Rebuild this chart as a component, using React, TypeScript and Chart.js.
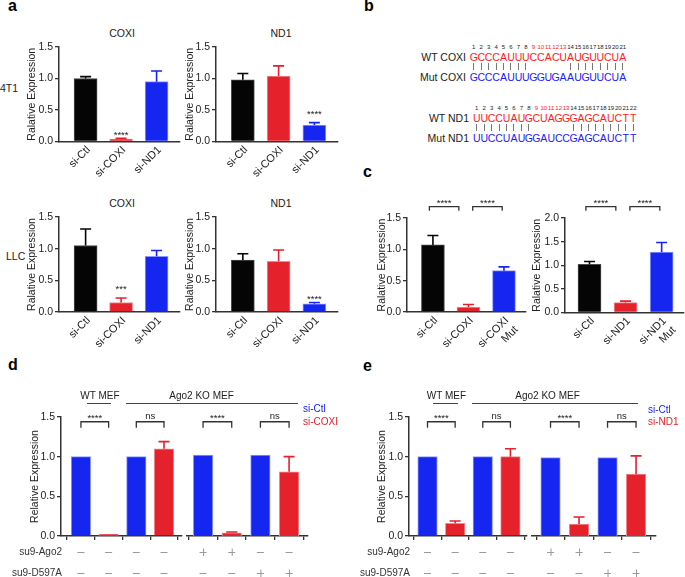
import React, { useEffect, useRef } from "react";
import { Chart, registerables } from "chart.js";

Chart.register(...registerables);

const FONT = "'Liberation Sans', Arial, Helvetica, sans-serif";
Chart.defaults.font.family = FONT;

const BLACK = "#050505";
const RED = "#e5212b";
const BLUE = "#1526f0";
const EDGE: Record<string, string> = { [BLACK]: "#4a4a4a", [RED]: "#f4888c", [BLUE]: "#8c98ff" };
const AXIS = "#333333";
const TXT = "#222222";

// ---------- panel a ----------
const aCategories = ["si-Ctl", "si-COXI", "si-ND1"];
const aColors = [BLACK, RED, BLUE];
const a4T1CoxiValues = [1.0, 0.04, 0.95];
const a4T1CoxiErrors = [0.03, 0.01, 0.17];
const a4T1Nd1Values = [0.98, 1.04, 0.26];
const a4T1Nd1Errors = [0.1, 0.16, 0.04];
const aLLCCoxiValues = [1.05, 0.15, 0.88];
const aLLCCoxiErrors = [0.26, 0.07, 0.09];
const aLLCNd1Values = [0.82, 0.8, 0.13];
const aLLCNd1Errors = [0.1, 0.18, 0.02];

// ---------- panel b ----------
const coxiWT = "GCCCAUUUCCACUAUGUUCUA";
const coxiMut = "GCCCAUUUGGUGAAUGUUCUA";
const nd1WT = "UUCCUAUGCUAGGGAGCAUCTT";
const nd1Mut = "UUCCUAUGGAUCCGAGCAUCTT";
const seedPositions = [9, 10, 11, 12, 13];

// ---------- panel c ----------
const cCoxiCategories: (string | string[])[] = ["si-Ctl", "si-COXI", ["si-COXI", "Mut"]];
const cCoxiValues = [1.07, 0.08, 0.66];
const cCoxiErrors = [0.15, 0.04, 0.06];
const cNd1Categories: (string | string[])[] = ["si-Ctl", "si-ND1", ["si-ND1", "Mut"]];
const cNd1Values = [1.02, 0.21, 1.28];
const cNd1Errors = [0.06, 0.03, 0.2];

// ---------- panels d / e ----------
const deColors = [BLUE, RED, BLUE, RED];
const dWtKoValues = [1.0, 0.02, 1.0, 1.1];
const dWtKoErrors = [0, 0, 0, 0.09];
const dRescueValues = [1.02, 0.04, 1.02, 0.81];
const dRescueErrors = [0, 0.01, 0, 0.19];
const eWtKoValues = [1.0, 0.16, 1.0, 1.0];
const eWtKoErrors = [0, 0.03, 0, 0.1];
const eRescueValues = [0.99, 0.15, 0.99, 0.78];
const eRescueErrors = [0, 0.09, 0, 0.23];
const su9Ago2 = ["-", "-", "-", "-", "+", "+", "-", "-"];
const su9D597A = ["-", "-", "-", "-", "-", "-", "+", "+"];

type Bracket = { from: number; to: number; level: number; text: string; leg: number };
type Star = { index: number; level: number; text: string };
type Row = { label: string; marks: string[]; dy: number };

interface Spec {
  box: number[];
  area: number[];
  labels?: (string | string[])[];
  values: number[];
  errors: number[];
  colors: string[];
  xMin: number;
  xMax: number;
  yMax: number;
  showY: boolean;
  yTitle?: string;
  yTitleX?: number;
  xTickMarks: boolean;
  barWidth: number;
  brackets?: Bracket[];
  stars?: Star[];
  rows?: Row[];
  rowLabels?: boolean;
}

const TICK_FS = 10.5;
const XTICK_FS = 11;
const TITLE_FS = 10.5;

function makeConfig(s: Spec): any {
  const [bx, by, bw, bh] = s.box;
  const [l, t, r, b] = s.area;
  const data = s.values.map((v, i) => ({ x: i, y: v }));
  const extras = {
    id: "extras",
    afterDatasetsDraw(chart: any) {
      const ctx = chart.ctx as CanvasRenderingContext2D;
      const meta = chart.getDatasetMeta(0);
      const ys = chart.scales.y;
      const xs = chart.scales.x;
      ctx.save();
      // error bars (upper only)
      s.errors.forEach((e, i) => {
        if (!e) return;
        const x = meta.data[i].x;
        const y0 = ys.getPixelForValue(s.values[i]);
        const y1 = ys.getPixelForValue(s.values[i] + e);
        ctx.strokeStyle = s.colors[i];
        ctx.lineWidth = 1.6;
        ctx.beginPath();
        ctx.moveTo(x, y0);
        ctx.lineTo(x, y1);
        ctx.moveTo(x - 5.5, y1);
        ctx.lineTo(x + 5.5, y1);
        ctx.stroke();
      });
      // stars above bars
      (s.stars || []).forEach((st) => {
        const x = xs.getPixelForValue(st.index);
        const yc = ys.getPixelForValue(st.level);
        ctx.fillStyle = TXT;
        ctx.font = `9.5px ${FONT}`;
        ctx.textAlign = "center";
        ctx.textBaseline = "alphabetic";
        ctx.fillText(st.text, x, yc + 0.575 * 9.5);
      });
      // brackets
      (s.brackets || []).forEach((br) => {
        const x1 = xs.getPixelForValue(br.from);
        const x2 = xs.getPixelForValue(br.to);
        const y = ys.getPixelForValue(br.level);
        ctx.strokeStyle = AXIS;
        ctx.lineWidth = 1.3;
        ctx.beginPath();
        ctx.moveTo(x1, y + br.leg);
        ctx.lineTo(x1, y);
        ctx.lineTo(x2, y);
        ctx.lineTo(x2, y + br.leg);
        ctx.stroke();
        ctx.fillStyle = TXT;
        ctx.font = `9.5px ${FONT}`;
        ctx.textAlign = "center";
        ctx.textBaseline = "alphabetic";
        ctx.fillText(br.text, (x1 + x2) / 2, y - (br.text === "ns" ? 3 : 0.5));
      });
      // +/- table
      (s.rows || []).forEach((row) => {
        const yc = chart.chartArea.bottom + row.dy;
        if (s.rowLabels) {
          ctx.fillStyle = "#333";
          ctx.font = `10px ${FONT}`;
          ctx.textAlign = "right";
          ctx.textBaseline = "middle";
          ctx.fillText(row.label, chart.chartArea.left + 1, yc);
        }
        ctx.strokeStyle = "#9a9a9a";
        ctx.lineWidth = 1;
        row.marks.forEach((m, i) => {
          const x = xs.getPixelForValue(i);
          ctx.beginPath();
          ctx.moveTo(x - 3.5, yc + 0.5);
          ctx.lineTo(x + 3.5, yc + 0.5);
          if (m === "+") {
            ctx.moveTo(x + 0.5, yc - 3.5);
            ctx.lineTo(x + 0.5, yc + 4);
          }
          ctx.stroke();
        });
      });
      ctx.restore();
    },
  };

  const lh = TITLE_FS * 1.2;
  return {
    type: "bar",
    data: {
      datasets: [
        {
          data,
          backgroundColor: s.colors,
          borderColor: s.colors.map((c) => EDGE[c]),
          borderWidth: 1,
          borderSkipped: "bottom",
          barThickness: s.barWidth,
        },
      ],
    },
    options: {
      responsive: false,
      maintainAspectRatio: false,
      animation: false,
      events: [],
      layout: { padding: { top: t - by, right: bx + bw - r, left: 0, bottom: 0 } },
      plugins: { legend: { display: false }, tooltip: { enabled: false }, title: { display: false } },
      scales: {
        x: {
          type: "linear",
          min: s.xMin,
          max: s.xMax,
          offset: false,
          grid: {
            display: true,
            drawOnChartArea: false,
            drawTicks: s.xTickMarks,
            tickLength: 4,
            color: AXIS,
            lineWidth: 1.3,
          },
          border: { display: true, color: AXIS, width: 1.5 },
          ticks: {
            display: !!s.labels,
            autoSkip: false,
            minRotation: 45,
            maxRotation: 45,
            padding: 2,
            labelOffset: 3,
            color: TXT,
            font: { size: XTICK_FS },
            callback: (v: number) => (s.labels ? s.labels[v] : ""),
          },
          afterBuildTicks: (sc: any) => {
            sc.ticks = s.values.map((_, i) => ({ value: i }));
          },
          afterFit: (sc: any) => {
            sc.height = by + bh - b;
          },
        },
        y: {
          type: "linear",
          min: 0,
          max: s.yMax,
          grid: {
            display: s.showY,
            drawOnChartArea: false,
            drawTicks: true,
            tickLength: 4,
            color: AXIS,
            lineWidth: 1.3,
          },
          border: { display: s.showY, color: AXIS, width: 1.5 },
          ticks: {
            display: s.showY,
            stepSize: 0.5,
            padding: 2,
            color: TXT,
            font: { size: TICK_FS },
            callback: (v: number) => v.toFixed(1),
          },
          title: {
            display: s.showY && !!s.yTitle,
            text: s.yTitle || "",
            color: TXT,
            font: { size: TITLE_FS },
            padding: { top: s.yTitleX !== undefined ? s.yTitleX - bx - lh / 2 : 0, bottom: 0 },
          },
          afterFit: (sc: any) => {
            sc.width = l - bx;
          },
        },
      },
    },
    plugins: [extras],
  };
}

function BarPanel({ spec }: { spec: Spec }) {
  const ref = useRef<HTMLCanvasElement>(null);
  useEffect(() => {
    const chart = new Chart(ref.current as HTMLCanvasElement, makeConfig(spec));
    return () => chart.destroy();
  }, []);
  const [x, y, w, h] = spec.box;
  return (
    <canvas
      ref={ref}
      width={w}
      height={h}
      style={{ position: "absolute", left: x, top: y, width: w, height: h }}
    />
  );
}

function T({
  x,
  y,
  children,
  align = "left",
  size = 10.5,
  color = TXT,
  bold = false,
}: {
  x: number;
  y: number;
  children: any;
  align?: "left" | "center" | "right";
  size?: number;
  color?: string;
  bold?: boolean;
}) {
  const tx = align === "center" ? "-50%" : align === "right" ? "-100%" : "0";
  return (
    <div
      style={{
        position: "absolute",
        left: x,
        top: y - size * 0.6,
        fontSize: size,
        lineHeight: `${size * 1.2}px`,
        color,
        fontWeight: bold ? 700 : 400,
        whiteSpace: "nowrap",
        transform: `translateX(${tx})`,
        fontFamily: FONT,
      }}
    >
      {children}
    </div>
  );
}

function HLine({ x1, x2, y }: { x1: number; x2: number; y: number }) {
  return (
    <div style={{ position: "absolute", left: x1, top: y, width: x2 - x1, height: 1, background: "#444" }} />
  );
}

function SeqBlock({
  x,
  yNum,
  wt,
  mut,
  wtLabel,
  mutLabel,
  labelX,
}: {
  x: number;
  yNum: number;
  wt: string;
  mut: string;
  wtLabel: string;
  mutLabel: string;
  labelX: number;
}) {
  const col = 7.45;
  const items: any[] = [];
  wt.split("").forEach((ch, i) => {
    const cx = x + i * col + col / 2;
    const seed = seedPositions.includes(i + 1);
    items.push(
      <T key={"n" + i} x={cx} y={yNum} align="center" size={6} color={seed ? "#ff2020" : "#222"}>
        {i + 1}
      </T>
    );
    items.push(
      <T key={"w" + i} x={cx} y={yNum + 9} align="center" size={10.5} color="#ff1a1a">
        {ch}
      </T>
    );
    if (ch === mut[i]) {
      items.push(
        <div
          key={"b" + i}
          style={{ position: "absolute", left: cx - 0.5, top: yNum + 15, width: 1, height: 7, background: "#777" }}
        />
      );
    }
    items.push(
      <T key={"m" + i} x={cx} y={yNum + 29} align="center" size={10.5} color="#2020ff">
        {mut[i]}
      </T>
    );
  });
  return (
    <>
      <T x={labelX} y={yNum + 9} align="right">
        {wtLabel}
      </T>
      <T x={labelX} y={yNum + 29} align="right">
        {mutLabel}
      </T>
      {items}
    </>
  );
}

const aBase = {
  labels: aCategories,
  colors: aColors,
  xMin: -0.75,
  xMax: 2.66,
  yMax: 1.5,
  showY: true,
  yTitle: "Ralative Expression",
  xTickMarks: false,
  barWidth: 23,
};

const specs: Spec[] = [
  {
    ...aBase,
    box: [10, 35, 180, 155],
    area: [59, 47, 180, 141.5],
    values: a4T1CoxiValues,
    errors: a4T1CoxiErrors,
    yTitleX: 32,
    stars: [{ index: 1, level: 0.14, text: "****" }],
  },
  {
    ...aBase,
    box: [168, 35, 180, 155],
    area: [216, 47, 338, 141.5],
    values: a4T1Nd1Values,
    errors: a4T1Nd1Errors,
    yTitleX: 190,
    stars: [{ index: 2, level: 0.47, text: "****" }],
  },
  {
    ...aBase,
    box: [10, 205, 180, 155],
    area: [59, 217, 180, 312],
    values: aLLCCoxiValues,
    errors: aLLCCoxiErrors,
    yTitleX: 32,
    stars: [{ index: 1, level: 0.4, text: "***" }],
  },
  {
    ...aBase,
    box: [168, 205, 180, 155],
    area: [216, 217, 338, 312],
    values: aLLCNd1Values,
    errors: aLLCNd1Errors,
    yTitleX: 190,
    stars: [{ index: 2, level: 0.24, text: "****" }],
  },
  {
    ...aBase,
    labels: cCoxiCategories,
    box: [360, 188, 180, 167],
    area: [407, 218, 526, 312],
    xMin: -0.73,
    xMax: 2.62,
    values: cCoxiValues,
    errors: cCoxiErrors,
    yTitleX: 382,
    brackets: [
      { from: -0.1, to: 0.73, level: 1.68, text: "****", leg: 4 },
      { from: 1.12, to: 1.95, level: 1.68, text: "****", leg: 4 },
    ],
  },
  {
    ...aBase,
    labels: cNd1Categories,
    box: [518, 188, 167, 167],
    area: [565, 218, 684, 312.5],
    xMin: -0.68,
    xMax: 2.62,
    yMax: 2.0,
    values: cNd1Values,
    errors: cNd1Errors,
    yTitleX: 537,
    brackets: [
      { from: -0.1, to: 0.73, level: 2.24, text: "****", leg: 4 },
      { from: 1.12, to: 1.95, level: 2.24, text: "****", leg: 4 },
    ],
  },
];

const deBase = {
  colors: deColors,
  yMax: 1.5,
  xTickMarks: true,
  barWidth: 19.5,
  yTitle: "Relative Expression",
};

const deBrackets: Bracket[] = [
  { from: 0, to: 1, level: 1.44, text: "****", leg: 6 },
  { from: 2, to: 3, level: 1.44, text: "ns", leg: 6 },
];

const rowsLeft: Row[] = [
  { label: "su9-Ago2", marks: su9Ago2.slice(0, 4), dy: 16 },
  { label: "su9-D597A", marks: su9D597A.slice(0, 4), dy: 37 },
];
const rowsRight: Row[] = [
  { label: "su9-Ago2", marks: su9Ago2.slice(4), dy: 16 },
  { label: "su9-D597A", marks: su9D597A.slice(4), dy: 37 },
];

const deSpecs: Spec[] = [
  {
    ...deBase,
    box: [0, 385, 192, 192],
    area: [61, 417, 182, 536],
    xMin: -0.72,
    xMax: 3.65,
    showY: true,
    yTitleX: 35,
    values: dWtKoValues,
    errors: dWtKoErrors,
    brackets: deBrackets,
    rows: rowsLeft,
    rowLabels: true,
  },
  {
    ...deBase,
    box: [183, 385, 130, 192],
    area: [187, 417, 308, 536],
    xMin: -0.56,
    xMax: 3.66,
    showY: false,
    values: dRescueValues,
    errors: dRescueErrors,
    brackets: deBrackets,
    rows: rowsRight,
  },
  {
    ...deBase,
    box: [345, 385, 190, 192],
    area: [409, 417, 527, 536],
    xMin: -0.67,
    xMax: 3.6,
    showY: true,
    yTitleX: 382,
    values: eWtKoValues,
    errors: eWtKoErrors,
    brackets: deBrackets,
    rows: rowsLeft,
    rowLabels: true,
  },
  {
    ...deBase,
    box: [528, 385, 140, 192],
    area: [532, 417, 656, 536],
    xMin: -0.65,
    xMax: 3.7,
    showY: false,
    values: eRescueValues,
    errors: eRescueErrors,
    brackets: deBrackets,
    rows: rowsRight,
  },
];

export default function App() {
  return (
    <div
      style={{
        position: "absolute",
        left: 0,
        top: 0,
        width: 685,
        height: 577,
        overflow: "hidden",
        background: "#fff",
        fontFamily: FONT,
      }}
    >
      {/* panel letters */}
      <T x={8} y={6} size={16} bold color="#000">a</T>
      <T x={364} y={6} size={16} bold color="#000">b</T>
      <T x={363} y={172} size={16} bold color="#000">c</T>
      <T x={8} y={365} size={16} bold color="#000">d</T>
      <T x={363} y={366} size={16} bold color="#000">e</T>

      {/* panel a labels */}
      <T x={0} y={88}>4T1</T>
      <T x={6} y={256}>LLC</T>
      <T x={122} y={33} align="center">COXI</T>
      <T x={281} y={33} align="center">ND1</T>
      <T x={122} y={203} align="center">COXI</T>
      <T x={281} y={203} align="center">ND1</T>

      {/* panel b */}
      <SeqBlock x={470} yNum={48} wt={coxiWT} mut={coxiMut} wtLabel="WT COXI" mutLabel="Mut COXI" labelX={466} />
      <SeqBlock x={473} yNum={109} wt={nd1WT} mut={nd1Mut} wtLabel="WT ND1" mutLabel="Mut ND1" labelX={469} />

      {specs.map((s, i) => (
        <BarPanel key={"a" + i} spec={s} />
      ))}
      {deSpecs.map((s, i) => (
        <BarPanel key={"d" + i} spec={s} />
      ))}

      {/* panel d headers & legend */}
      <T x={100} y={396} size={10} align="center">WT MEF</T>
      <HLine x1={87} x2={111} y={403} />
      <T x={201.5} y={396} size={10} align="center">Ago2 KO MEF</T>
      <HLine x1={126} x2={298} y={403} />
      <T x={303} y={409} size={10} color={BLUE}>si-Ctl</T>
      <T x={303} y={422} size={10} color={RED}>si-COXI</T>

      {/* panel e headers & legend */}
      <T x={446.5} y={396} size={10} align="center">WT MEF</T>
      <HLine x1={433} x2={458} y={403} />
      <T x={547.5} y={396} size={10} align="center">Ago2 KO MEF</T>
      <HLine x1={472} x2={638} y={403} />
      <T x={648} y={410} size={10} color={BLUE}>si-Ctl</T>
      <T x={648} y={422} size={10} color={RED}>si-ND1</T>
    </div>
  );
}
